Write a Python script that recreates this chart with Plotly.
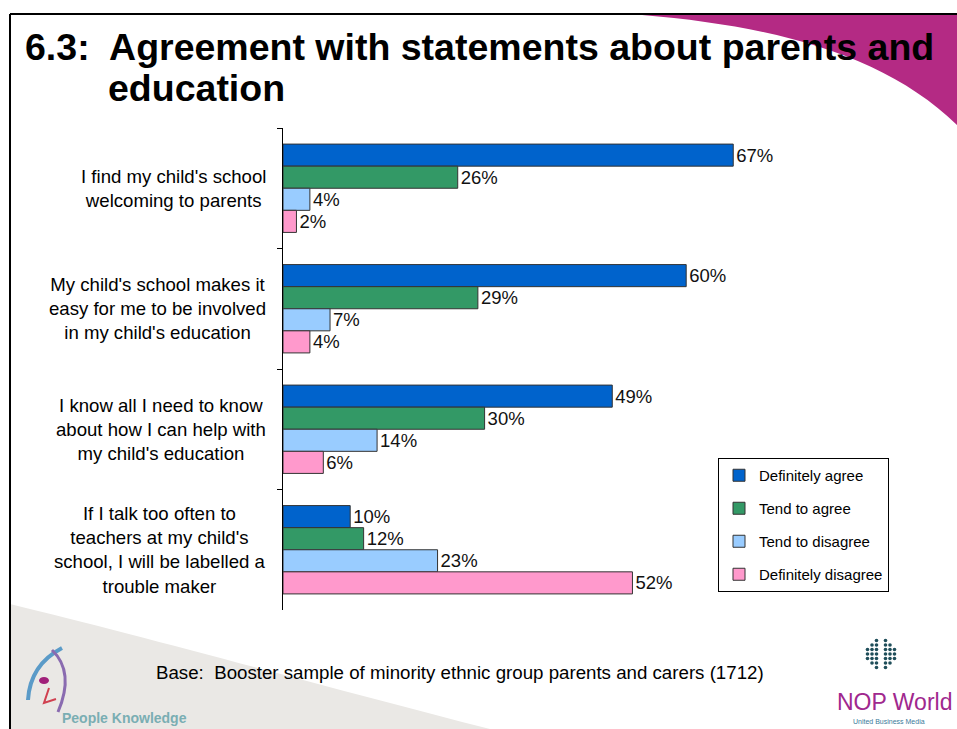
import plotly.graph_objects as go

# Survey results: share of parents agreeing with each statement (%)
statements = [
    "I find my child's school<br>welcoming to parents",
    "My child's school makes it<br>easy for me to be involved<br>in my child's education",
    "I know all I need to know<br>about how I can help with<br>my child's education",
    "If I talk too often to<br>teachers at my child's<br>school, I will be labelled a<br>trouble maker",
]
definitely_agree = [67, 60, 49, 10]
tend_to_agree = [26, 29, 30, 12]
tend_to_disagree = [4, 7, 14, 23]
definitely_disagree = [2, 4, 6, 52]

series_names = ["Definitely agree", "Tend to agree", "Tend to disagree", "Definitely disagree"]
series_values = [definitely_agree, tend_to_agree, tend_to_disagree, definitely_disagree]
series_colors = ["#0063CC", "#339966", "#99CCFF", "#FF99CC"]

W, H = 957, 729
ML, MR, MT, MB = 283, 2, 128, 119
PW, PH = W - ML - MR, H - MT - MB
FONT = "Arial, Liberation Sans, sans-serif"


def px(x):
    return (x - ML) / PW


def py(y):
    return (H - MB - y) / PH


def path(cmds):
    out = []
    for c in cmds:
        if isinstance(c, str):
            out.append(c)
        else:
            out.append(f"{px(c[0]):.5f},{py(c[1]):.5f}")
    return " ".join(out)


fig = go.Figure()
for name, vals, col in zip(series_names, series_values, series_colors):
    fig.add_trace(go.Bar(
        name=name,
        y=statements,
        x=vals,
        orientation="h",
        marker=dict(color=col, line=dict(color="#333333", width=1)),
        text=[f"{v}%" for v in vals],
        textposition="outside",
        textfont=dict(size=18.5, color="#111111", family=FONT),
        cliponaxis=False,
        legendgroup=name,
        hoverinfo="skip",
    ))

shapes = []
# slide background swooshes
shapes.append(dict(
    type="path", xref="paper", yref="paper", layer="below",
    path=path(["M", (10, 604), "C", (150, 638), (330, 688), (490, 729),
               "L", (10, 729), "Z"]),
    fillcolor="#EAE8E5", line=dict(width=0),
))
shapes.append(dict(
    type="path", xref="paper", yref="paper", layer="below",
    path=path(["M", (642, 15), "C", (775, 26), (885, 55), (957, 125),
               "L", (957, 15), "Z"]),
    fillcolor="#B42A84", line=dict(width=0),
))
# slide frame
shapes.append(dict(type="line", xref="paper", yref="paper",
                   x0=px(10), y0=py(14), x1=px(957), y1=py(14),
                   line=dict(color="black", width=2)))
shapes.append(dict(type="line", xref="paper", yref="paper",
                   x0=px(10), y0=py(14), x1=px(10), y1=py(729),
                   line=dict(color="black", width=2)))

# People Knowledge emblem
shapes.append(dict(type="path", xref="paper", yref="paper",
                   path=path(["M", (62, 648), "Q", (30, 665), (28, 700)]),
                   line=dict(color="#5B9BC8", width=4)))
shapes.append(dict(type="path", xref="paper", yref="paper",
                   path=path(["M", (52, 650), "Q", (75, 672), (58, 712)]),
                   line=dict(color="#8A6BB0", width=3)))
shapes.append(dict(type="circle", xref="paper", yref="paper",
                   x0=px(39), x1=px(49), y0=py(677), y1=py(684),
                   fillcolor="#A0207A", line=dict(width=0)))
shapes.append(dict(type="path", xref="paper", yref="paper",
                   path=path(["M", (49, 688), "L", (44, 703), "L", (56, 699)]),
                   line=dict(color="#D04050", width=2)))

# NOP World globe of dots
cx, cy, r = 881, 654, 15
for row in range(-3, 4):
    for col in range(-3, 4):
        if col == 0:
            continue
        dx, dy = col * 4.5, row * 4.5
        if dx * dx + dy * dy <= r * r:
            shapes.append(dict(type="circle", xref="paper", yref="paper",
                               x0=px(cx + dx - 1.8), x1=px(cx + dx + 1.8),
                               y0=py(cy + dy - 1.8), y1=py(cy + dy + 1.8),
                               fillcolor="#1F4E5A", line=dict(width=0)))

annotations = [
    dict(text="<b>6.3:\u00a0 Agreement with statements about parents and</b>",
         xref="paper", yref="paper", x=px(23), y=py(47), xanchor="left", yanchor="middle",
         showarrow=False, font=dict(size=37.5, color="black", family=FONT)),
    dict(text="<b>education</b>",
         xref="paper", yref="paper", x=px(106), y=py(88), xanchor="left", yanchor="middle",
         showarrow=False, font=dict(size=37.5, color="black", family=FONT)),
    dict(text="Base:\u00a0 Booster sample of minority ethnic group parents and carers (1712)",
         xref="paper", yref="paper", x=px(460), y=py(672), xanchor="center", yanchor="middle",
         showarrow=False, font=dict(size=18.7, color="black", family=FONT)),
    dict(text="<b>People Knowledge</b>",
         xref="paper", yref="paper", x=px(60), y=py(718), xanchor="left", yanchor="middle",
         showarrow=False, font=dict(size=14, color="#7AAEB3", family=FONT)),
    dict(text="NOP World",
         xref="paper", yref="paper", x=px(954), y=py(702), xanchor="right", yanchor="middle",
         showarrow=False, font=dict(size=23, color="#A0288E", family=FONT)),
    dict(text="United Business Media",
         xref="paper", yref="paper", x=px(889), y=py(721), xanchor="center", yanchor="middle",
         showarrow=False, font=dict(size=7, color="#3A7A9A", family=FONT)),
]
for s in statements:
    annotations.append(dict(
        text=s, xref="paper", yref="y", x=px(268), y=s,
        xanchor="right", yanchor="middle", align="center", showarrow=False,
        font=dict(size=18.6, color="black", family=FONT),
    ))

fig.update_layout(
    width=W, height=H, autosize=False,
    margin=dict(l=ML, r=MR, t=MT, b=MB, pad=0),
    paper_bgcolor="white", plot_bgcolor="rgba(0,0,0,0)",
    barmode="group", bargap=0.267, bargroupgap=0,
    font=dict(family=FONT, color="black"),
    xaxis=dict(range=[0, 100], visible=False, fixedrange=True),
    yaxis=dict(
        type="category", autorange="reversed",
        showticklabels=False, showgrid=False, zeroline=False,
        showline=True, linecolor="black", linewidth=1,
        ticks="outside", ticklen=5, tickcolor="black", tickson="boundaries",
        fixedrange=True,
    ),
    legend=dict(
        x=px(718), y=py(458), xanchor="left", yanchor="top",
        bgcolor="white", bordercolor="black", borderwidth=1,
        font=dict(size=15, color="black", family=FONT),
        traceorder="grouped", tracegroupgap=10.5, itemclick=False, itemdoubleclick=False,
    ),
    shapes=shapes,
    annotations=annotations,
    showlegend=True,
)

fig.write_html("out.html")
